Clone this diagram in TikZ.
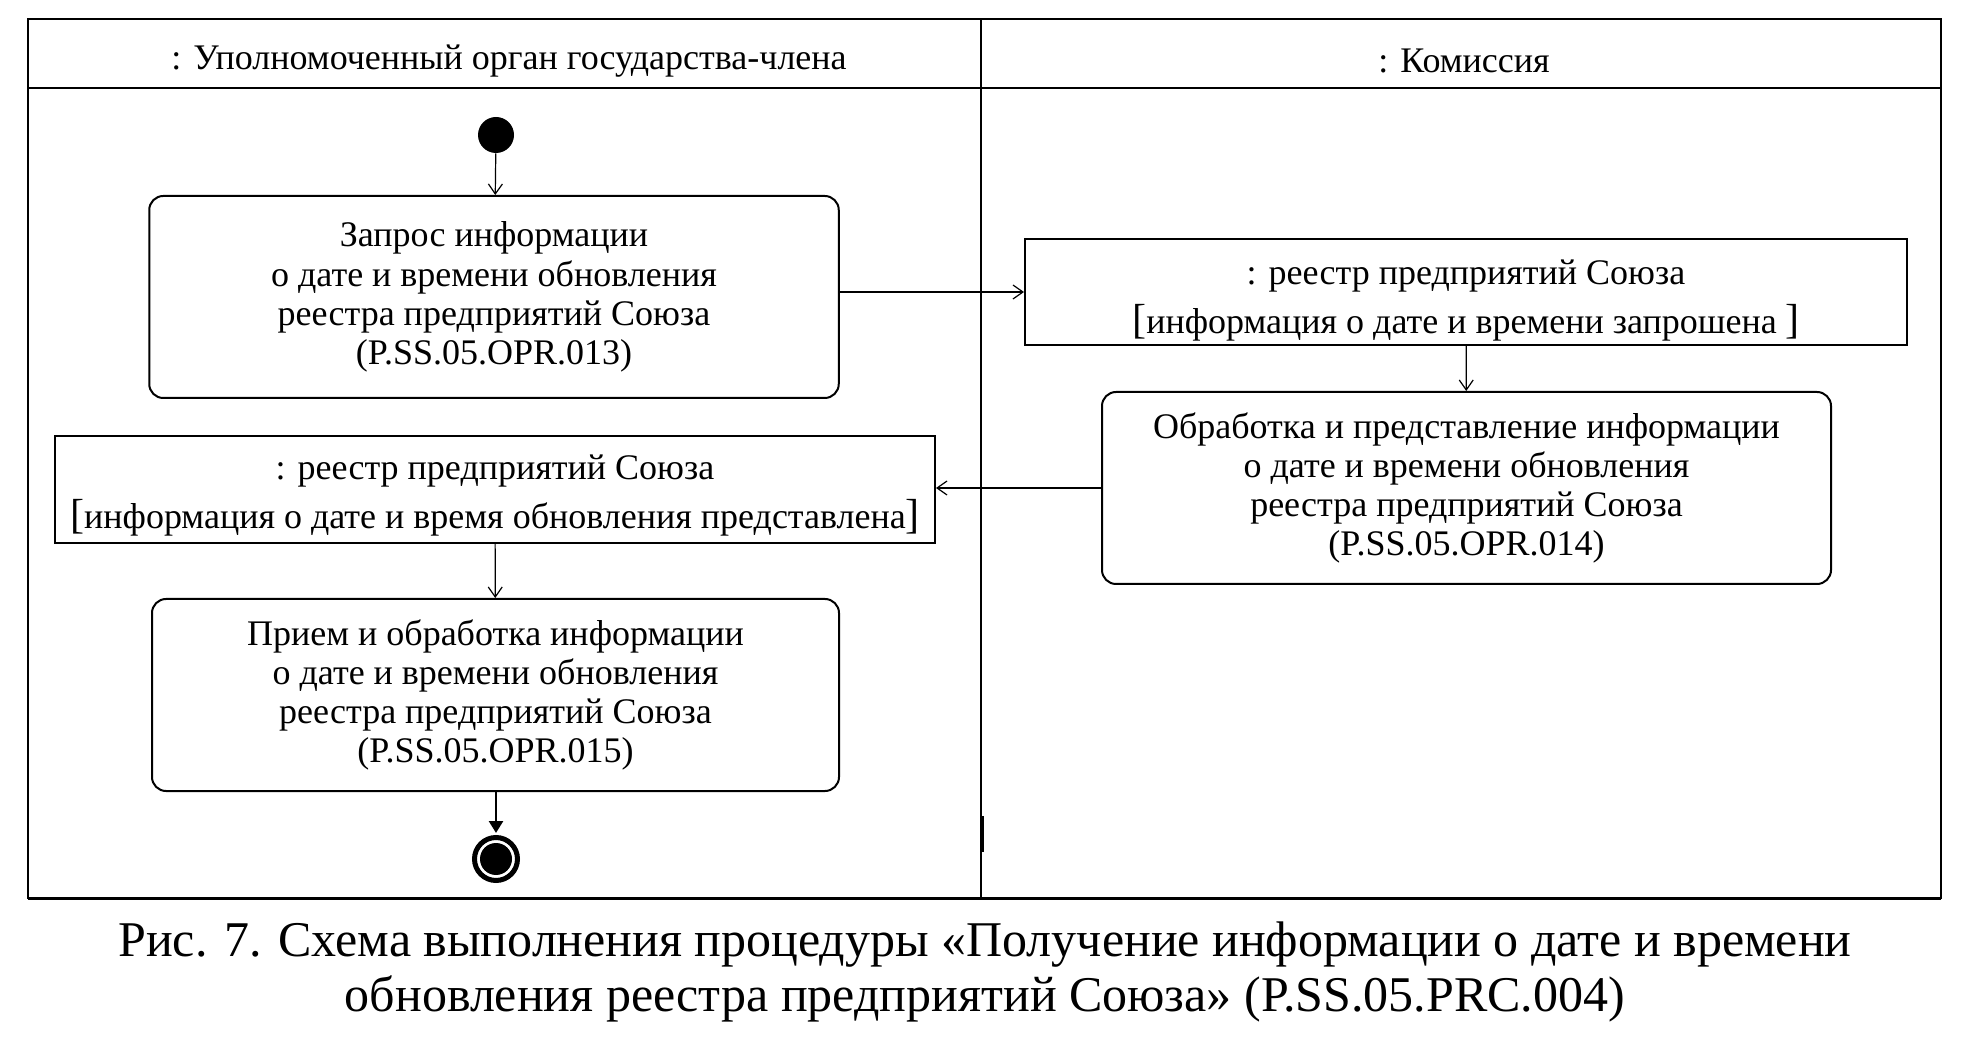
\documentclass[tikz,border=0pt]{standalone}
\usepackage{fontspec}
\setmainfont{Liberation Serif}
\usetikzlibrary{positioning,arrows.meta}

\newcommand{\tallbr}[1]{{\fontsize{21}{21}\selectfont #1}}

\begin{document}
\begin{tikzpicture}[x=0.5pt,y=-0.5pt]
\tikzstyle{action}=[rectangle, rounded corners=7pt, draw=black, line width=1pt, align=center, inner sep=0pt, font=\fontsize{18}{19.6}\selectfont]
\tikzstyle{objbox}=[rectangle, draw=black, line width=1pt, align=center, inner sep=0pt, font=\fontsize{18}{24.5}\selectfont]
\tikzstyle{connect}=[-{Straight Barb[length=5pt,width=7pt]}, line width=0.6pt]
\tikzstyle{lane}=[line width=1pt]
\tikzstyle{title}=[font=\fontsize{18}{20}\selectfont]
\useasboundingbox (0,0) rectangle (1970,1052);
% swimlanes
\draw[lane] (27.6,18.8) rectangle (1941,898);
\draw[lane] (27.6,88) -- (1941,88);
\draw[lane] (981,18.8) -- (981,898);
\draw[line width=1.5pt] (27.6,898) -- (1941,898);
\draw[line width=1.6pt] (982,816) -- (982,852);
\node[title] (lane1) at (509,61) {: Уполномоченный орган государства-члена};
\node[title] (lane2) at (1464,61) {: Комиссия};
% activity
\node[circle, fill=black, minimum size=18pt, inner sep=0pt] (start) at (496,135) {};
\node[action, minimum width=344.75pt, minimum height=101pt] (req) at (494,297)
  {Запрос информации\\о дате и времени обновления\\реестра предприятий Союза\\(P.SS.05.OPR.013)};
\node[objbox, minimum width=441pt, minimum height=53pt] (asked) at (1466,292)
  {\rule{0pt}{21pt}: реестр предприятий Союза\\\tallbr{[}информация о дате и времени запрошена \tallbr{]}};
\node[action, minimum width=364.5pt, minimum height=96pt] (proc) at (1466.5,488)
  {Обработка и представление информации\\о дате и времени обновления\\реестра предприятий Союза\\(P.SS.05.OPR.014)};
\node[objbox, minimum width=440pt, minimum height=53.5pt] (given) at (495,489.5)
  {\rule{0pt}{18.5pt}: реестр предприятий Союза\\\tallbr{[}информация о дате и время обновления представлена\tallbr{]}};
\node[action, minimum width=343.5pt, minimum height=96pt] (recv) at (495.5,695)
  {Прием и обработка информации\\о дате и времени обновления\\реестра предприятий Союза\\(P.SS.05.OPR.015)};
\node[circle, draw=black, line width=2.5pt, minimum size=21.5pt, inner sep=0pt] (stop) at (496,859) {};
\node[circle, fill=black, minimum size=16pt, inner sep=0pt] (stopdot) at (stop) {};
\draw[connect] (start) -- (req);
\draw[connect] (req.east |- asked.west) -- (asked.west);
\draw[connect] (asked) -- (proc);
\draw[connect] (proc.west) -- (proc.west -| given.east);
\draw[connect] (given) -- (recv);
\draw[-{Triangle[length=6pt,width=7pt]}, line width=1.3pt, shorten >=1pt] (recv.south -| stop) -- (stop);
% caption
\node[align=center, font=\fontsize{25}{27.5}\selectfont] (caption) at (985,972)
  {Рис. 7. Схема выполнения процедуры «Получение информации о дате и времени\\обновления реестра предприятий Союза» (P.SS.05.PRC.004)};
\end{tikzpicture}
\end{document}
